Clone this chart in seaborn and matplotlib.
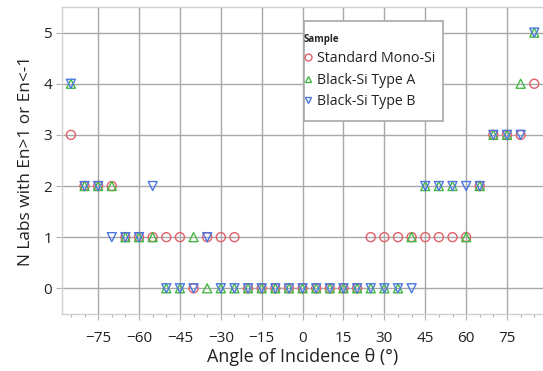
import numpy as np
import pandas as pd
import matplotlib
matplotlib.use("Agg")
import matplotlib.pyplot as plt
from matplotlib.patches import Rectangle
from matplotlib.lines import Line2D
from matplotlib.ticker import MultipleLocator
import seaborn as sns

angles = [-85, -80, -75, -70, -65, -60, -55, -50, -45, -40, -35, -30, -25, -20, -15, -10, -5,
          0, 5, 10, 15, 20, 25, 30, 35, 40, 45, 50, 55, 60, 65, 70, 75, 80, 85]
mono_si = [3, 2, 2, 2, 1, 1, 1, 1, 1, 0, 1, 1, 1, 0, 0, 0, 0,
           0, 0, 0, 0, 0, 1, 1, 1, 1, 1, 1, 1, 1, 2, 3, 3, 3, 4]
type_a = [4, 2, 2, 2, 1, 1, 1, 0, 0, 1, 0, 0, 0, 0, 0, 0, 0,
          0, 0, 0, 0, 0, 0, 0, 0, 1, 2, 2, 2, 1, 2, 3, 3, 4, 5]
type_b = [4, 2, 2, 1, 1, 1, 2, 0, 0, 0, 1, 0, 0, 0, 0, 0, 0,
          0, 0, 0, 0, 0, 0, 0, 0, 0, 2, 2, 2, 2, 2, 3, 3, 3, 5]
series_names = ["Standard Mono-Si", "Black-Si Type A", "Black-Si Type B"]
x_ticks = [-75, -60, -45, -30, -15, 0, 15, 30, 45, 60, 75]
y_ticks = [0, 1, 2, 3, 4, 5]

colors = ["#E0606A", "#45B845", "#4A78E0"]
markers = ["o", "^", "v"]

sns.set_style("white")
plt.rcParams['font.family'] = ['Open Sans', 'DejaVu Sans']

fig = plt.figure(figsize=(5.43, 3.71), dpi=100)
ax = fig.add_axes([0.114, 0.154, 0.886, 0.827])

for vals, name, col, mk in zip([mono_si, type_a, type_b], series_names, colors, markers):
    df = pd.DataFrame({"angle": angles, "n": vals})
    sns.scatterplot(data=df, x="angle", y="n", ax=ax, marker=mk, s=42,
                    facecolors="none", edgecolors=col, linewidths=1.0, zorder=3)

ax.set_xlim(-88.3, 88.2)
ax.set_ylim(-0.5, 5.5)
ax.set_xticks(x_ticks)
ax.set_yticks(y_ticks)
ax.xaxis.set_minor_locator(MultipleLocator(5))
ax.grid(True, which="major", color="#a8a8a8", linewidth=1.0, zorder=0)
ax.set_axisbelow(True)

for side in ["left", "bottom", "top"]:
    ax.spines[side].set_color("#d0d0d0")
    ax.spines[side].set_linewidth(1.0)
ax.spines["right"].set_visible(False)

ax.tick_params(axis="both", which="major", direction="out", length=4, width=0.8,
               color="#b0b0b0", labelsize=11, labelcolor="#222222", pad=3)
ax.tick_params(axis="x", which="major", pad=8)
ax.tick_params(axis="x", which="minor", direction="out", length=2.5, width=0.8,
               color="#b0b0b0", bottom=True)
ax.tick_params(axis="x", which="major", bottom=True)
ax.tick_params(axis="y", which="major", left=True)

ax.set_xlabel("Angle of Incidence θ (°)", fontsize=13, color="#222222", labelpad=2)
ax.set_ylabel("N Labs with En>1 or En<-1", fontsize=12.4, color="#222222", labelpad=7)

# legend box
box = Rectangle((0.503, 0.629), 0.289, 0.326, transform=ax.transAxes,
                facecolor="white", edgecolor="#a8a8a8", linewidth=1.2, zorder=5)
ax.add_patch(box)
handles = [Line2D([], [], linestyle="none", marker=mk, markersize=5,
                  markerfacecolor="none", markeredgecolor=col, markeredgewidth=1.0)
           for col, mk in zip(colors, markers)]
leg = ax.legend(handles, series_names, title="Sample", loc="upper left",
                bbox_to_anchor=(0.503, 0.912), frameon=False, fontsize=10.2,
                handlelength=0.6, handletextpad=0.35, labelspacing=0.45,
                borderaxespad=0, borderpad=0)
leg.get_title().set_fontsize(7)
leg.get_title().set_fontweight("bold")
leg._legend_box.align = "left"
leg.set_zorder(6)
for t in leg.get_texts():
    t.set_color("#222222")

fig.savefig("out.png", dpi=100)
